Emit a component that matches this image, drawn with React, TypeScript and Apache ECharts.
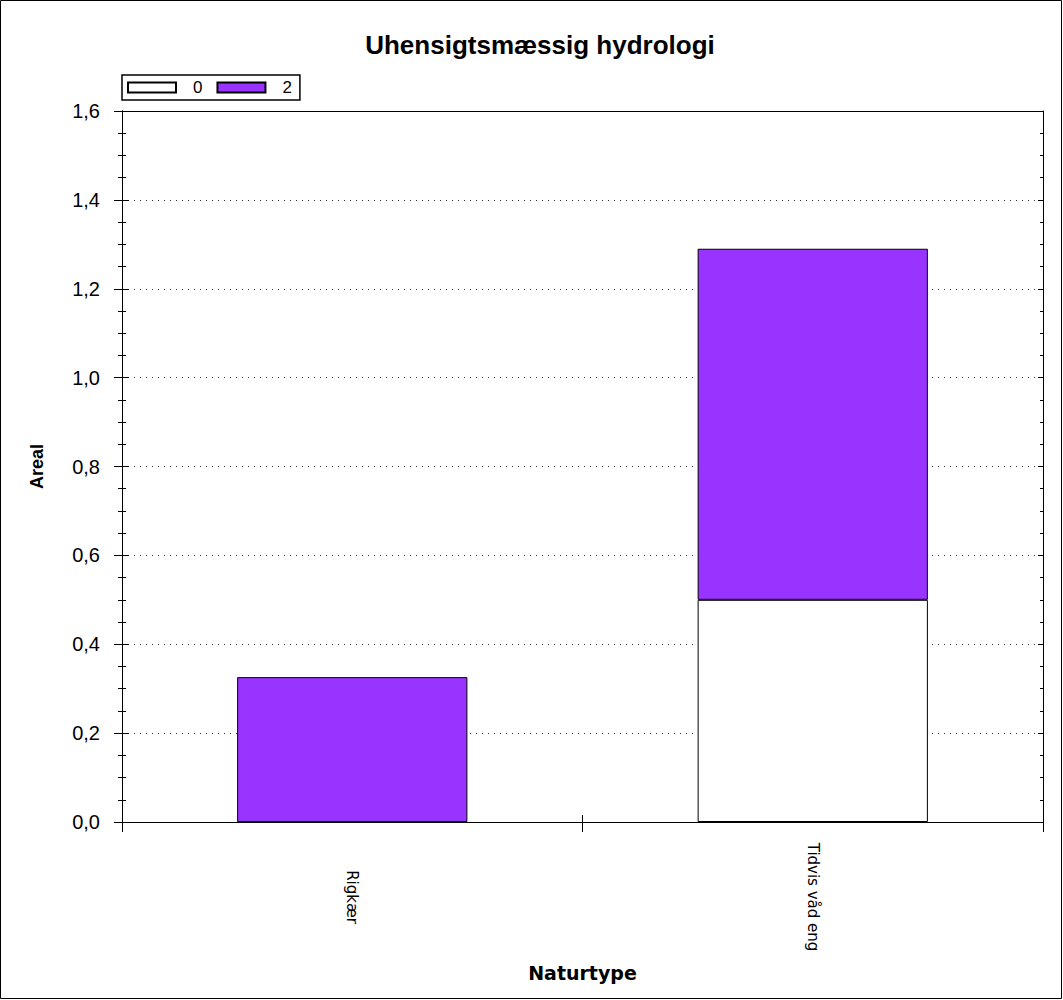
import React, { useEffect, useRef } from "react";
import * as echarts from "echarts";

const titleText = "Uhensigtsmæssig hydrologi";
const categories = ["Rigkær", "Tidvis våd eng"];
const seriesNames = ["0", "2"];
const values0 = [null, 0.5];
const values2 = [0.326, 0.79];
const yMin = 0;
const yMax = 1.6;
const yInterval = 0.2;
const xName = "Naturtype";
const yName = "Areal";

const FONT = "'Liberation Sans', Arial, sans-serif";
const DV = "'DejaVu Sans', sans-serif";

export default function App() {
  const ref = useRef<HTMLDivElement>(null);
  useEffect(() => {
    document.body.style.margin = "0";
    const chart = echarts.init(ref.current!, null, { renderer: "svg" });
    const fmt = (v: number) => v.toFixed(1).replace(".", ",");
    const baseY = {
      type: "value",
      min: yMin,
      max: yMax,
      interval: yInterval,
      axisLine: { show: true, lineStyle: { color: "#000", width: 1 } },
      minorTick: { show: true, splitNumber: 4, length: 4, lineStyle: { color: "#000" } },
      splitLine: { show: false },
      axisLabel: { show: false },
    };
    chart.setOption({
      animation: false,
      backgroundColor: "#fff",
      graphic: [
        {
          type: "rect",
          shape: { x: 0.5, y: 0.5, width: 1061, height: 998 },
          style: { fill: "none", stroke: "#000", lineWidth: 1 },
          silent: true,
        },
        {
          type: "text",
          x: 540,
          y: 45,
          style: {
            text: titleText,
            font: `bold 26px ${FONT}`,
            fill: "#000",
            textAlign: "center",
            textVerticalAlign: "middle",
          },
        },
      ],
      legend: {
        left: 122,
        top: 75,
        orient: "horizontal",
        data: seriesNames,
        itemWidth: 48,
        itemHeight: 10,
        itemGap: 14,
        padding: [4, 8, 4, 5],
        borderColor: "#000",
        borderWidth: 1.5,
        borderRadius: 0,
        textStyle: { fontFamily: FONT, fontSize: 17, color: "#000", padding: [0, 0, 0, 12] },
        icon: "rect",
      },
      grid: {
        left: 122,
        right: 20,
        top: 111,
        bottom: 178,
        show: false,
        containLabel: false,
      },
      xAxis: [
        {
          type: "category",
          position: "bottom",
          data: categories,
          name: xName,
          nameLocation: "middle",
          nameGap: 141,
          nameTextStyle: { fontFamily: DV, fontSize: 19, fontWeight: "bold", color: "#000" },
          axisLine: { show: true, onZero: false, lineStyle: { color: "#000", width: 1 } },
          axisTick: { show: true, length: 10, inside: false, lineStyle: { color: "#000" } },
          axisLabel: {
            rotate: -90,
            margin: 75,
            align: "center",
            verticalAlign: "middle",
            fontFamily: DV,
            fontSize: 15,
            color: "#000",
          },
          splitLine: { show: false },
        },
        {
          type: "category",
          position: "bottom",
          data: categories,
          axisLine: { show: false, onZero: false },
          axisTick: { show: true, length: 7, inside: true, lineStyle: { color: "#000" } },
          axisLabel: { show: false },
          splitLine: { show: false },
        },
        {
          type: "category",
          position: "top",
          data: categories,
          axisLine: { show: true, onZero: false, lineStyle: { color: "#000", width: 1 } },
          axisTick: { show: false },
          axisLabel: { show: false },
          splitLine: { show: false },
        },
      ],
      yAxis: [
        {
          ...baseY,
          position: "left",
          name: yName,
          nameLocation: "middle",
          nameRotate: 90,
          nameGap: 76,
          nameTextStyle: { fontFamily: FONT, fontSize: 18, fontWeight: "bold", color: "#000" },
          axisTick: { show: true, length: 8, inside: false, lineStyle: { color: "#000" } },
          axisLabel: {
            show: true,
            margin: 22,
            formatter: fmt,
            fontFamily: FONT,
            fontSize: 20,
            color: "#000",
          },
          splitLine: {
            show: true,
            lineStyle: { color: "#333", width: 1, type: [1, 5] },
          },
        },
        {
          ...baseY,
          position: "left",
          axisTick: { show: true, length: 7, inside: true, lineStyle: { color: "#000" } },
        },
        {
          ...baseY,
          position: "right",
          axisTick: { show: true, length: 5, inside: true, lineStyle: { color: "#000" } },
          minorTick: { show: true, splitNumber: 4, length: 3, lineStyle: { color: "#000" } },
        },
      ],
      series: [
        {
          name: seriesNames[0],
          type: "bar",
          stack: "total",
          xAxisIndex: 0,
          yAxisIndex: 0,
          barWidth: "50%",
          data: values0,
          itemStyle: { color: "#ffffff", borderColor: "#000", borderWidth: 1 },
        },
        {
          name: seriesNames[1],
          type: "bar",
          stack: "total",
          xAxisIndex: 0,
          yAxisIndex: 0,
          barWidth: "50%",
          data: values2,
          itemStyle: { color: "#9933ff", borderColor: "#000", borderWidth: 1 },
        },
      ],
    });
    return () => chart.dispose();
  }, []);
  return <div ref={ref} style={{ width: 1063, height: 1000 }} />;
}
